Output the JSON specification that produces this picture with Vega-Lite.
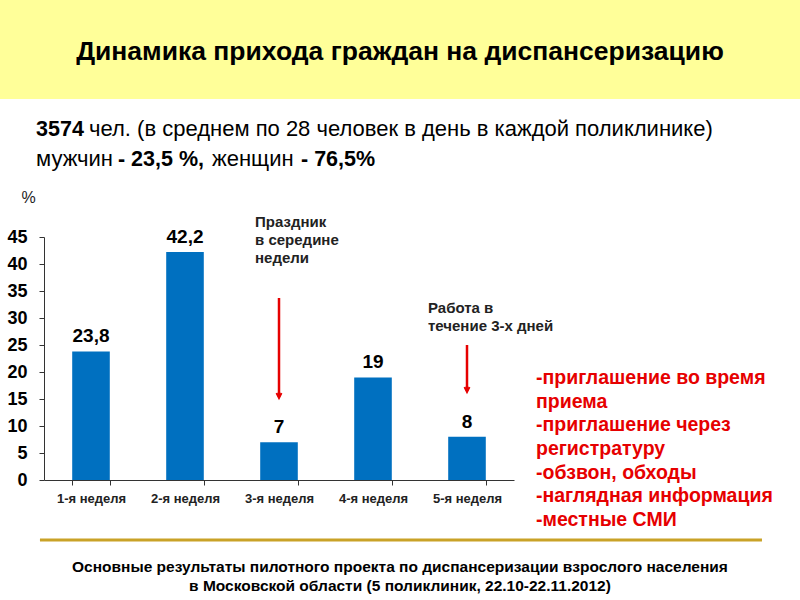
{
  "$schema": "https://vega.github.io/schema/vega-lite/v6.json",
  "width": 470,
  "height": 243,
  "autosize": {"type": "none"},
  "padding": {"left": 44, "top": 237, "right": 286, "bottom": 120},
  "background": "white",
  "config": {
    "view": {"stroke": null},
    "font": "Liberation Sans",
    "text": {"font": "Liberation Sans"},
    "axisX": {"title": null, "labelAngle": 0, "labelFont": "Liberation Sans", "labelFontSize": 13, "labelFontWeight": "bold", "labelColor": "#222", "tickBand": "extent", "tickSize": 5, "tickColor": "#333", "domainColor": "#333", "labelPadding": 7, "grid": false},
    "axisY": {"titleAngle": 0, "titleFont": "Liberation Sans", "titleFontSize": 16, "titleFontWeight": "normal", "titleColor": "#222", "titleX": -16, "titleY": -40, "titleAlign": "center", "titleBaseline": "middle", "labelOverlap": false, "labelFont": "Liberation Sans", "labelFontSize": 18, "labelFontWeight": "bold", "labelColor": "#000", "tickSize": 5, "tickColor": "#333", "domainColor": "#333", "labelPadding": 12, "grid": false}
  },
  "datasets": {
    "weeks": [
      {"week": "1-я неделя", "value": 23.8, "label": "23,8"},
      {"week": "2-я неделя", "value": 42.2, "label": "42,2"},
      {"week": "3-я неделя", "value": 7, "label": "7"},
      {"week": "4-я неделя", "value": 19, "label": "19"},
      {"week": "5-я неделя", "value": 8, "label": "8"}
    ]
  },
  "layer": [
    {
      "layer": [
        {
          "data": {"values": [{"t": "banner"}]},
          "mark": {"type": "rect", "color": "#FFFF99"},
          "encoding": {
            "x": {"datum": 0.0, "type": "quantitative", "scale": {"domain": [0.5, 5.5], "nice": false, "zero": false}, "axis": null},
            "x2": {"datum": 8.6},
            "y": {"datum": 90, "type": "quantitative", "scale": {"domain": [0, 45], "nice": false}, "axis": null},
            "y2": {"datum": 70.56}
          }
        },
        {
          "data": {"values": [{"text": "Динамика прихода граждан на диспансеризацию"}]},
          "mark": {"type": "text", "fontSize": 26.5, "fontWeight": "bold", "align": "center", "baseline": "middle", "color": "#000"},
          "encoding": {
            "x": {"datum": 4.287, "type": "quantitative", "scale": {"domain": [0.5, 5.5], "nice": false, "zero": false}, "axis": null},
            "y": {"datum": 79.26, "type": "quantitative", "scale": {"domain": [0, 45], "nice": false}, "axis": null},
            "text": {"field": "text"}
          }
        },
        {
          "data": {"values": [{"text": "3574"}]},
          "mark": {"type": "text", "fontSize": 21.5, "fontWeight": "bold", "align": "left", "baseline": "alphabetic", "color": "#000"},
          "encoding": {
            "x": {"datum": 0.415, "type": "quantitative", "scale": {"domain": [0.5, 5.5], "nice": false, "zero": false}, "axis": null},
            "y": {"datum": 63.7, "type": "quantitative", "scale": {"domain": [0, 45], "nice": false}, "axis": null},
            "text": {"field": "text"}
          }
        },
        {
          "data": {"values": [{"text": "чел. (в среднем по 28 человек в день в каждой поликлинике)"}]},
          "mark": {"type": "text", "fontSize": 22, "align": "left", "baseline": "alphabetic", "color": "#000"},
          "encoding": {
            "x": {"datum": 0.979, "type": "quantitative", "scale": {"domain": [0.5, 5.5], "nice": false, "zero": false}, "axis": null},
            "y": {"datum": 63.7, "type": "quantitative", "scale": {"domain": [0, 45], "nice": false}, "axis": null},
            "text": {"field": "text"}
          }
        },
        {
          "data": {"values": [{"text": "мужчин"}]},
          "mark": {"type": "text", "fontSize": 22, "align": "left", "baseline": "alphabetic", "color": "#000"},
          "encoding": {
            "x": {"datum": 0.415, "type": "quantitative", "scale": {"domain": [0.5, 5.5], "nice": false, "zero": false}, "axis": null},
            "y": {"datum": 58.15, "type": "quantitative", "scale": {"domain": [0, 45], "nice": false}, "axis": null},
            "text": {"field": "text"}
          }
        },
        {
          "data": {"values": [{"text": "- 23,5 %,"}]},
          "mark": {"type": "text", "fontSize": 21.5, "fontWeight": "bold", "align": "left", "baseline": "alphabetic", "color": "#000"},
          "encoding": {
            "x": {"datum": 1.287, "type": "quantitative", "scale": {"domain": [0.5, 5.5], "nice": false, "zero": false}, "axis": null},
            "y": {"datum": 58.15, "type": "quantitative", "scale": {"domain": [0, 45], "nice": false}, "axis": null},
            "text": {"field": "text"}
          }
        },
        {
          "data": {"values": [{"text": "женщин"}]},
          "mark": {"type": "text", "fontSize": 22, "align": "left", "baseline": "alphabetic", "color": "#000"},
          "encoding": {
            "x": {"datum": 2.287, "type": "quantitative", "scale": {"domain": [0.5, 5.5], "nice": false, "zero": false}, "axis": null},
            "y": {"datum": 58.15, "type": "quantitative", "scale": {"domain": [0, 45], "nice": false}, "axis": null},
            "text": {"field": "text"}
          }
        },
        {
          "data": {"values": [{"text": "- 76,5%"}]},
          "mark": {"type": "text", "fontSize": 21.5, "fontWeight": "bold", "align": "left", "baseline": "alphabetic", "color": "#000"},
          "encoding": {
            "x": {"datum": 3.234, "type": "quantitative", "scale": {"domain": [0.5, 5.5], "nice": false, "zero": false}, "axis": null},
            "y": {"datum": 58.15, "type": "quantitative", "scale": {"domain": [0, 45], "nice": false}, "axis": null},
            "text": {"field": "text"}
          }
        },
        {
          "data": {"values": [{"text": ["Праздник", "в середине", "недели"]}]},
          "mark": {"type": "text", "fontSize": 15, "fontWeight": "bold", "align": "left", "baseline": "middle", "lineHeight": 18, "color": "#222"},
          "encoding": {
            "x": {"datum": 2.745, "type": "quantitative", "scale": {"domain": [0.5, 5.5], "nice": false, "zero": false}, "axis": null},
            "y": {"datum": 47.78, "type": "quantitative", "scale": {"domain": [0, 45], "nice": false}, "axis": null},
            "text": {"field": "text"}
          }
        },
        {
          "data": {"values": [{"text": ["Работа в", "течение 3-х дней"]}]},
          "mark": {"type": "text", "fontSize": 15, "fontWeight": "bold", "align": "left", "baseline": "middle", "lineHeight": 18, "color": "#222"},
          "encoding": {
            "x": {"datum": 4.585, "type": "quantitative", "scale": {"domain": [0.5, 5.5], "nice": false, "zero": false}, "axis": null},
            "y": {"datum": 31.85, "type": "quantitative", "scale": {"domain": [0, 45], "nice": false}, "axis": null},
            "text": {"field": "text"}
          }
        },
        {
          "data": {"values": [{"text": ["-приглашение во время", "приема", "-приглашение  через", "регистратуру", "-обзвон, обходы", "-наглядная информация", "-местные СМИ"]}]},
          "mark": {"type": "text", "fontSize": 19.5, "fontWeight": "bold", "align": "left", "baseline": "middle", "lineHeight": 23.7, "color": "#E60000"},
          "encoding": {
            "x": {"datum": 5.734, "type": "quantitative", "scale": {"domain": [0.5, 5.5], "nice": false, "zero": false}, "axis": null},
            "y": {"datum": 18.89, "type": "quantitative", "scale": {"domain": [0, 45], "nice": false}, "axis": null},
            "text": {"field": "text"}
          }
        },
        {
          "data": {"values": [{"t": "line"}]},
          "mark": {"type": "rule", "color": "#C9A227", "strokeWidth": 3},
          "encoding": {
            "x": {"datum": 0.457, "type": "quantitative", "scale": {"domain": [0.5, 5.5], "nice": false, "zero": false}, "axis": null},
            "x2": {"datum": 8.138},
            "y": {"datum": -11.11, "type": "quantitative", "scale": {"domain": [0, 45], "nice": false}, "axis": null}
          }
        },
        {
          "data": {"values": [{"text": ["Основные результаты пилотного проекта по диспансеризации взрослого населения", "в Московской области (5 поликлиник, 22.10-22.11.2012)"]}]},
          "mark": {"type": "text", "fontSize": 15.5, "fontWeight": "bold", "align": "center", "baseline": "middle", "lineHeight": 19, "color": "#000"},
          "encoding": {
            "x": {"datum": 4.287, "type": "quantitative", "scale": {"domain": [0.5, 5.5], "nice": false, "zero": false}, "axis": null},
            "y": {"datum": -16.11, "type": "quantitative", "scale": {"domain": [0, 45], "nice": false}, "axis": null},
            "text": {"field": "text"}
          }
        }
      ]
    },
    {
      "data": {"name": "weeks"},
      "layer": [
        {
          "mark": {"type": "bar", "color": "#0070C0"},
          "encoding": {
            "x": {"field": "week", "type": "nominal", "title": null,
              "scale": {"domain": ["1-я неделя", "2-я неделя", "3-я неделя", "4-я неделя", "5-я неделя"], "paddingInner": 0.6, "paddingOuter": 0.3}},
            "y": {"field": "value", "type": "quantitative", "title": "%",
              "scale": {"domain": [0, 45], "nice": false},
              "axis": {"values": [0, 5, 10, 15, 20, 25, 30, 35, 40, 45]}}
          }
        },
        {
          "mark": {"type": "text", "fontSize": 19, "fontWeight": "bold", "baseline": "alphabetic", "dy": -9, "color": "#000"},
          "encoding": {
            "x": {"field": "week", "type": "nominal", "title": null},
            "y": {"field": "value", "type": "quantitative", "title": "%", "scale": {"domain": [0, 45], "nice": false}, "axis": {"values": [0, 5, 10, 15, 20, 25, 30, 35, 40, 45]}},
            "text": {"field": "label"}
          }
        },
        {
          "data": {"values": [{"week": "3-я неделя", "from": 33.7, "to": 15.4}, {"week": "5-я неделя", "from": 25.0, "to": 16.5}]},
          "mark": {"type": "rule", "color": "#E60000", "strokeWidth": 2.5},
          "encoding": {
            "x": {"field": "week", "type": "nominal", "title": null},
            "y": {"field": "from", "type": "quantitative", "title": "%", "scale": {"domain": [0, 45], "nice": false}, "axis": {"values": [0, 5, 10, 15, 20, 25, 30, 35, 40, 45]}},
            "y2": {"field": "to"}
          }
        },
        {
          "data": {"values": [{"week": "3-я неделя", "tip": 15.19}, {"week": "5-я неделя", "tip": 16.3}]},
          "mark": {"type": "point", "shape": "M-0.5,-1L0,0L0.5,-1", "filled": false, "size": 100, "stroke": "#E60000", "strokeWidth": 2, "opacity": 1},
          "encoding": {
            "x": {"field": "week", "type": "nominal", "title": null},
            "y": {"field": "tip", "type": "quantitative", "title": "%", "scale": {"domain": [0, 45], "nice": false}, "axis": {"values": [0, 5, 10, 15, 20, 25, 30, 35, 40, 45]}}
          }
        }
      ]
    }
  ],
  "resolve": {"scale": {"x": "independent", "y": "independent"}}
}
